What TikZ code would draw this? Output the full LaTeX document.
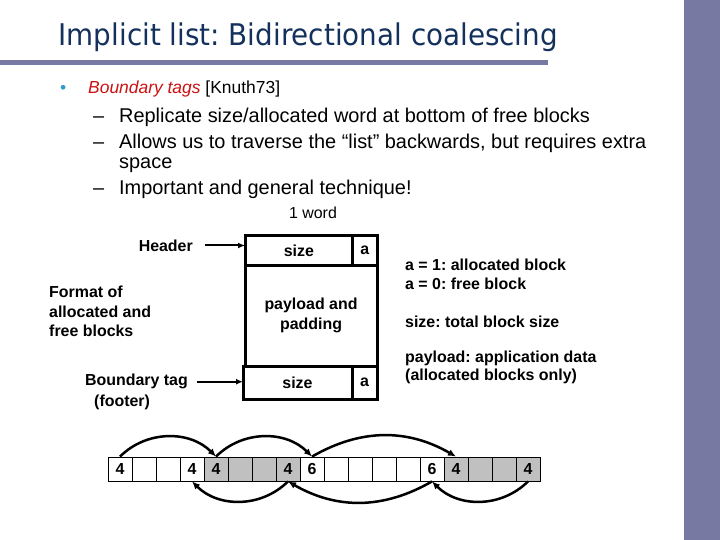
\documentclass[tikz,border=0pt]{standalone}
\usepackage{fontspec}
\setmainfont{Liberation Sans}
\newfontfamily\titlefont[FakeStretch=0.93]{DejaVu Sans}
\usetikzlibrary{arrows.meta,positioning}
\definecolor{slbar}{HTML}{7779A3}
\definecolor{slnavy}{HTML}{13315C}
\definecolor{slred}{HTML}{CC1111}
\definecolor{slteal}{HTML}{3399CC}
\definecolor{slgray}{HTML}{C0C0C0}
\frenchspacing

\begin{document}
\begin{tikzpicture}[x=1bp,y=-1bp,
    txt/.style={inner sep=0pt,anchor=base west,font=\fontsize{20}{22}\selectfont},
    lbl/.style={inner sep=0pt,align=left,font=\fontsize{16}{18.3}\selectfont\bfseries},
    blk/.style={draw,line width=3bp,inner sep=0pt,outer sep=0pt,align=center,
      font=\fontsize{16}{20}\selectfont\bfseries},
    cell/.style={draw,line width=0.8bp,minimum size=24bp,inner sep=0pt,
      font=\fontsize{16}{18}\selectfont\bfseries},
    arr/.style={-{Latex[length=7bp,width=6bp]},line width=2bp},
    link/.style={-{Latex[length=8bp,width=7bp]},line width=2.5bp}]
  \useasboundingbox (0,0) rectangle (720,540);
  % slide frame
  \fill[slbar] (684,0) rectangle (720,540);
  \fill[slbar] (0,60) rectangle (548,65);
  \node[txt,font=\titlefont\fontsize{30}{34}\selectfont,text=slnavy] (title) at (58.5,45.7)
    {Implicit list: Bidirectional coalescing};
  % bullets
  \node[txt,font=\fontsize{17.5}{20}\selectfont,text=slteal] (dot) at (60,93.3) {•};
  \node[txt,font=\fontsize{17.5}{20}\selectfont] (tags) at (88,93.3)
    {\textcolor{slred}{\itshape Boundary tags} [Knuth73]};
  \node[txt] (d1) at (93,123) {–};
  \node[txt] (s1) at (119,123) {Replicate size/allocated word at bottom of free blocks};
  \node[txt] (d2) at (93,148.5) {–};
  \node[txt] (s2) at (119,148.5) {Allows us to traverse the “list” backwards, but requires extra};
  \node[txt] (s2b) at (119,168.5) {space};
  \node[txt] (d3) at (93,194.5) {–};
  \node[txt] (s3) at (119,194.5) {Important and general technique!};
  % block format
  \node[inner sep=0pt,font=\fontsize{16}{19}\selectfont] (word) at (313,213) {1 word};
  \node[blk,minimum width=107.7bp,minimum height=29bp,anchor=north west] (hsize) at (245,236) {size};
  \node[blk,minimum width=24.3bp,minimum height=29bp,right=0pt of hsize] (ha) {a};
  \node[blk,minimum width=132bp,minimum height=101bp,anchor=north west] (pay) at (hsize.south west)
    {payload and\\padding};
  \node[blk,minimum width=109bp,minimum height=33bp,anchor=north west] (fsize) at (243,366) {size};
  \node[blk,minimum width=25bp,minimum height=33bp,right=0pt of fsize] (fa) {a};
  \node[lbl,anchor=east] (hdrlbl) at (193,245.5) {Header};
  \node[lbl,anchor=west,font=\fontsize{16}{19.4}\selectfont\bfseries] (fmt) at (49,311.4)
    {Format of\\allocated and\\free blocks};
  \node[lbl,anchor=east] (ftrlbl) at (188,381.7) {Boundary tag};
  \node[lbl,anchor=west] (ftrsub) at (94,402.7) {(footer)};
  \draw[arr] ([xshift=12bp]hdrlbl.east) -- (hdrlbl.east -| hsize.west);
  \draw[arr] ([xshift=9bp]ftrlbl.east) -- (ftrlbl.east -| fsize.west);
  % legend
  \node[lbl,anchor=west] (lega) at (405,274.2) {a = 1: allocated block\\a = 0: free block};
  \node[lbl,anchor=west] (legs) at (405,321.7) {size: total block size};
  \node[lbl,anchor=west] (legp) at (405,367.5) {payload: application data\\(allocated blocks only)};
  % heap strip
  \foreach \i/\num/\shade in {0/4/white,1//white,2//white,3/4/white,4/4/slgray,5//slgray,
      6//slgray,7/4/slgray,8/6/white,9//white,10//white,11//white,12//white,13/6/white,
      14/4/slgray,15//slgray,16//slgray,17/4/slgray}
    \node[cell,fill=\shade] (c\i) at (120+24*\i,469) {\num};
  \draw[link] (c0.north) to[out=45,in=135] (c4.north);
  \draw[link] (c4.north) to[out=45,in=135] (c8.north);
  \draw[link] (c8.north) to[out=30,in=150] (c14.north);
  \draw[link] (c17.south) to[out=-135,in=-45] (c13.south);
  \draw[link] (c13.south) to[out=-150,in=-30] (c7.south);
  \draw[link] (c7.south) to[out=-135,in=-45] (c3.south);
\end{tikzpicture}
\end{document}
